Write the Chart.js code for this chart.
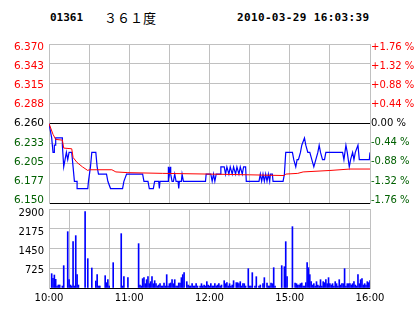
<!DOCTYPE html>
<html>
<head>
<meta charset="utf-8">
<title>01361 ３６１度</title>
<script src="https://cdn.jsdelivr.net/npm/chart.js@4.4.0/dist/chart.umd.min.js"></script>
<style>
  body { margin: 0; background: #fff; }
  #wrap { position: relative; width: 414px; height: 314px; overflow: hidden; background: #fff; }
  .hd { position: absolute; top: 11px; line-height: 11px; font: bold 11px 'DejaVu Sans Mono', monospace; color: #000; white-space: nowrap; }
  #code { left: 50px; }
  #name { left: 104px; top: 8px; line-height: 13px; font: 13px 'Noto Sans CJK SC', sans-serif; }
  #time { left: 237px; letter-spacing: 0.35px; }
  canvas { position: absolute; left: 0; }
  #priceChart { top: 0; }
  #volChart { top: 196px; }
</style>
</head>
<body>
<div id="wrap">
  <div class="hd" id="code">01361</div>
  <div class="hd" id="name">３６１度</div>
  <div class="hd" id="time">2010-03-29 16:03:39</div>
  <canvas id="priceChart" width="414" height="210"></canvas>
  <canvas id="volChart" width="414" height="118"></canvas>
</div>
<script>
// eje de tiempo: minutos de negociación desde las 10:00 (mañana 10:00-12:30, tarde 14:30-16:00)
const timeTicks = [0, 30, 60, 90, 120, 150, 180, 210, 240];
const timeLabels = ['10:00', '', '11:00', '', '12:00', '', '15:00', '', '16:00'];

const priceTicks = [6.150, 6.1775, 6.205, 6.2325, 6.260, 6.2875, 6.315, 6.3425, 6.370];
const priceLabels = ['6.150', '6.177', '6.205', '6.233', '6.260', '6.288', '6.315', '6.343', '6.370'];
const pctLabels = ['-1.76 %', '-1.32 %', '-0.88 %', '-0.44 %', '0.00 %', '+0.44 %', '+0.88 %', '+1.32 %', '+1.76 %'];

const volTicks = [0, 725, 1450, 2175, 2900];
const volLabels = ['', '725', '1450', '2175', '2900'];

// precio (línea azul)
const priceMin = [0, 1, 2, 3, 4, 4, 5, 5, 10, 10, 11, 12, 13, 14, 15, 17, 18, 19, 21, 21,
  29, 29.5, 31, 32, 35, 36, 37, 43, 44, 46, 55, 56, 58, 70, 71, 74, 75, 78, 79, 82,
  82.5, 83, 89, 89, 89.5, 90, 90.5, 91, 92, 93, 94, 95, 96.5, 97, 97.5, 99, 99.5, 100, 100.5, 117,
  117.5, 121, 122, 123, 124, 125, 128, 128.5, 131, 132, 133, 134.5, 135.5, 137, 138, 139.5, 140.5, 142, 143, 144.5,
  145.5, 147, 147.5, 157, 158, 159, 160, 161, 162, 163, 164, 165, 165.5, 167, 167.5, 175, 176, 177, 182, 183,
  184.5, 185.5, 186.5, 188, 189, 191, 192, 193.5, 195, 196.5, 198, 199.5, 201, 202, 203, 204.5, 206, 207, 219.5, 220.5,
  222, 223, 224.5, 225.5, 227, 228, 229, 231, 232, 239.5, 240];
const price = [6.26, 6.25, 6.24, 6.22, 6.22, 6.23, 6.23, 6.24, 6.24, 6.23, 6.20, 6.21, 6.22, 6.21, 6.22, 6.22, 6.20, 6.18, 6.18, 6.17,
  6.17, 6.18, 6.20, 6.22, 6.22, 6.20, 6.19, 6.19, 6.18, 6.17, 6.17, 6.18, 6.19, 6.19, 6.18, 6.18, 6.17, 6.17, 6.18, 6.18,
  6.17, 6.18, 6.18, 6.19, 6.20, 6.19, 6.20, 6.19, 6.18, 6.18, 6.19, 6.18, 6.18, 6.17, 6.18, 6.18, 6.19, 6.19, 6.18, 6.18,
  6.19, 6.19, 6.18, 6.19, 6.18, 6.19, 6.19, 6.20, 6.20, 6.19, 6.20, 6.19, 6.20, 6.19, 6.20, 6.19, 6.20, 6.19, 6.20, 6.19,
  6.20, 6.20, 6.18, 6.18, 6.19, 6.18, 6.19, 6.18, 6.19, 6.18, 6.19, 6.18, 6.19, 6.19, 6.18, 6.18, 6.19, 6.22, 6.22, 6.21,
  6.20, 6.21, 6.21, 6.22, 6.23, 6.24, 6.23, 6.22, 6.22, 6.21, 6.20, 6.21, 6.22, 6.23, 6.22, 6.21, 6.21, 6.22, 6.22, 6.21,
  6.23, 6.22, 6.20, 6.21, 6.22, 6.21, 6.22, 6.23, 6.21, 6.21, 6.22];

// precio medio (línea roja)
const avgMin = [0, 3, 5, 10, 11, 17, 18, 21, 25, 29, 30, 47, 50, 59, 85, 120, 150, 176, 177, 186, 190, 210, 225, 240];
const avgPrice = [6.26, 6.245, 6.238, 6.237, 6.226, 6.225, 6.213, 6.206, 6.200, 6.195, 6.196, 6.196, 6.193, 6.192,
  6.191, 6.190, 6.189, 6.188, 6.190, 6.191, 6.193, 6.195, 6.197, 6.197];

// volumen por minuto
const volMin = [2, 3, 4, 5, 6, 7, 8, 10, 11, 14, 15, 16, 17, 18, 19, 20, 21, 22, 27, 29,
  32, 35, 36, 37, 38, 42, 43, 44, 45, 48, 54, 55, 56, 59, 67, 68, 69, 70, 71, 72,
  73, 74, 75, 76, 77, 78, 79, 80, 81, 82, 83, 84, 85, 86, 87, 88, 89, 90, 91, 92,
  93, 94, 95, 96, 97, 98, 99, 100, 101, 103, 104, 105, 106, 107, 108, 109, 110, 111, 113, 114,
  115, 116, 117, 118, 119, 120, 121, 122, 123, 124, 125, 126, 127, 128, 129, 131, 132, 133, 134, 135,
  136, 137, 138, 140, 141, 142, 143, 144, 145, 146, 147, 149, 150, 151, 152, 154, 155, 157, 158, 160,
  161, 163, 164, 165, 166, 167, 168, 169, 174, 176, 177, 178, 182, 184, 185, 186, 187, 188, 189, 190,
  191, 192, 193, 194, 195, 196, 197, 198, 199, 200, 201, 202, 203, 204, 205, 206, 207, 208, 209, 210,
  211, 212, 213, 214, 215, 216, 217, 218, 219, 220, 221, 222, 223, 224, 225, 226, 227, 228, 229, 230,
  231, 232, 233, 234, 235, 236, 237, 238, 239, 240];
const vol = [526, 355, 477, 318, 73, 110, 110, 73, 820, 2068, 306, 110, 73, 1701, 73, 1922, 490, 110, 2803, 1077,
  734, 257, 490, 73, 73, 453, 196, 306, 73, 930, 1995, 73, 416, 380, 1628, 110, 73, 343, 380, 159,
  306, 416, 159, 233, 416, 159, 269, 159, 73, 110, 159, 73, 73, 184, 73, 490, 73, 159, 184, 306,
  159, 306, 73, 73, 184, 184, 380, 490, 563, 233, 110, 73, 73, 159, 73, 73, 159, 73, 73, 159,
  73, 110, 73, 233, 110, 73, 159, 73, 73, 159, 73, 110, 159, 73, 110, 269, 159, 196, 73, 159,
  73, 110, 269, 196, 196, 159, 233, 73, 159, 159, 73, 710, 73, 73, 563, 73, 416, 73, 110, 159,
  380, 184, 73, 73, 184, 159, 746, 73, 820, 783, 1701, 416, 2252, 184, 159, 110, 110, 159, 184, 73,
  73, 196, 930, 746, 490, 233, 110, 159, 73, 233, 110, 73, 306, 73, 233, 196, 306, 159, 380, 159,
  110, 159, 73, 233, 159, 73, 306, 110, 159, 159, 710, 73, 159, 159, 159, 110, 159, 233, 110, 73,
  490, 159, 306, 343, 110, 159, 110, 233, 196, 269];

Chart.defaults.font.family = "'DejaVu Sans', sans-serif";
Chart.defaults.font.size = 10;
Chart.defaults.color = '#000';

const GRID = '#c0c0c0';
const GREEN = '#006000';
const RED = '#ff0000';

function pts(xs, ys) {
    return xs.map((x, i) => ({ x: x, y: ys[i] }));
}

// ancho fijo del eje y sin el margen extra que Chart.js reserva para las etiquetas
function fixWidth(w) {
    return s => {
        s.width = w;
        s.paddingTop = 0;
        s.paddingBottom = 0;
    };
}

function priceColor(c) {
    return c.index < 4 ? GREEN : (c.index === 4 ? '#000' : RED);
}

function timeAxis(showLabels) {
    return {
        type: 'linear',
        min: 0,
        max: 240,
        offset: false,
        afterBuildTicks: s => { s.ticks = timeTicks.map(v => ({ value: v })); },
        afterFit: s => { s.height = showLabels ? 26 : 0; },
        ticks: {
            display: showLabels,
            autoSkip: false,
            maxRotation: 0,
            padding: 4,
            callback: (v, i) => timeLabels[i]
        },
        grid: { color: GRID, drawTicks: false },
        border: { display: false }
    };
}

// eje solo de etiquetas: rango un poco más amplio para que las etiquetas extremas queden dentro del área
function labelAxis(pos, min, max, tickVals, labels, color, width, pad, size) {
    return {
        position: pos,
        weight: 1,
        min: min,
        max: max,
        afterBuildTicks: s => { s.ticks = tickVals.map(v => ({ value: v })); },
        afterFit: fixWidth(width),
        ticks: {
            padding: pad,
            font: { size: size },
            color: color,
            callback: (v, i) => labels[i]
        },
        grid: { display: false, drawTicks: false },
        border: { display: false }
    };
}

// gráfico de precios
new Chart(document.getElementById('priceChart'), {
    type: 'line',
    data: {
        datasets: [
            { data: pts(avgMin, avgPrice), borderColor: RED, borderWidth: 1, pointRadius: 0, tension: 0 },
            { data: pts(priceMin, price), borderColor: '#0000ff', borderWidth: 1.2, pointRadius: 0, tension: 0 }
        ]
    },
    options: {
        responsive: false,
        animation: false,
        devicePixelRatio: 1,
        layout: { padding: { top: 44, bottom: 7, left: 0, right: 0 } },
        plugins: { legend: { display: false }, tooltip: { enabled: false } },
        scales: {
            x: timeAxis(false),
            y: {
                position: 'left',
                weight: 0,
                min: 6.15,
                max: 6.37,
                afterBuildTicks: s => { s.ticks = priceTicks.map(v => ({ value: v })); },
                afterFit: fixWidth(0),
                ticks: { display: false },
                grid: {
                    drawTicks: false,
                    color: c => (c.index === 0 || c.index === 4) ? '#000' : GRID
                },
                border: { color: GRID }
            },
            yLab: labelAxis('left', 6.1457, 6.3750, priceTicks, priceLabels, priceColor, 49, 5, 10.5),
            yPct: {
                position: 'right',
                weight: 0,
                min: 6.15,
                max: 6.37,
                afterFit: fixWidth(0),
                ticks: { display: false },
                grid: { display: false, drawTicks: false },
                border: { color: GRID }
            },
            yPctLab: labelAxis('right', 6.1457, 6.3750, priceTicks, pctLabels, priceColor, 44, 1, 10)
        }
    }
});

// gráfico de volumen
new Chart(document.getElementById('volChart'), {
    type: 'bar',
    data: {
        datasets: [{
            data: pts(volMin, vol),
            backgroundColor: '#0000ff',
            borderWidth: 0,
            barThickness: 1
        }]
    },
    options: {
        responsive: false,
        animation: false,
        devicePixelRatio: 1,
        layout: { padding: { top: 13, bottom: 0, left: 0, right: 0 } },
        plugins: { legend: { display: false }, tooltip: { enabled: false } },
        scales: {
            x: timeAxis(true),
            y: {
                position: 'left',
                weight: 0,
                min: 0,
                max: 2900,
                afterBuildTicks: s => { s.ticks = volTicks.map(v => ({ value: v })); },
                afterFit: fixWidth(0),
                ticks: { display: false },
                grid: {
                    drawTicks: false,
                    color: c => c.index === 0 ? '#000' : GRID
                },
                border: { color: GRID }
            },
            yLab: labelAxis('left', 53, 3052, volTicks, volLabels, '#000', 49, 5, 10),
            yRight: {
                position: 'right',
                min: 0,
                max: 2900,
                afterFit: fixWidth(44),
                ticks: { display: false },
                grid: { display: false, drawTicks: false },
                border: { color: GRID }
            }
        }
    }
});
</script>
</body>
</html>
